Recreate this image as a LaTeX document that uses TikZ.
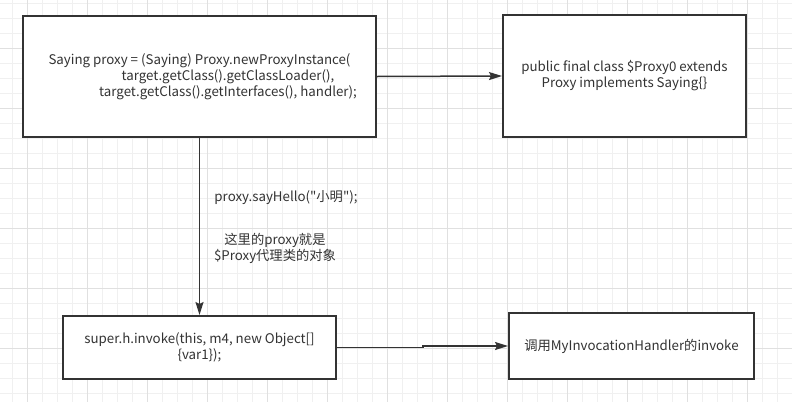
\documentclass[tikz,border=0pt]{standalone}
\usepackage{fontspec}
\setmainfont{Noto Sans CJK SC}[Ligatures=TeXOff]
\usetikzlibrary{arrows.meta}
\definecolor{ink}{HTML}{333333}
\definecolor{gridminor}{HTML}{F0F0F0}
\definecolor{gridmajor}{HTML}{E0E0E0}
\begin{document}
\begin{tikzpicture}[x=1pt,y=-1pt,
  box/.style={draw=ink, line width=2pt, fill=white, inner sep=0pt,
    text=ink, font=\fontsize{13.3}{16}\selectfont, align=center},
  lbl/.style={text=ink, font=\fontsize{13.3}{16.5}\selectfont, align=center, inner sep=0pt},
  flow/.style={draw=ink, line width=1.5pt, -{Stealth[length=13pt,width=8pt,inset=2pt]}}]
\useasboundingbox (0,0) rectangle (792,402);
\fill[white] (0,0) rectangle (792,402);
% background grid
\foreach \x in {12,27,...,792} \draw[gridminor, line width=1pt] (\x,0) -- (\x,402);
\foreach \y in {3,18,...,402} \draw[gridminor, line width=1pt] (0,\y) -- (792,\y);
\foreach \x in {27,87,...,792} \draw[gridmajor, line width=1pt] (\x,0) -- (\x,402);
\foreach \y in {48,108,...,402} \draw[gridmajor, line width=1pt] (0,\y) -- (792,\y);

% boxes
\node[box, minimum width=353pt, minimum height=121pt] (b1) at (199.5,76.5)
  {Saying proxy = (Saying) Proxy.newProxyInstance(\\
   \hspace*{57pt}target.getClass().getClassLoader(),\\
   \hspace*{57pt}target.getClass().getInterfaces(), handler);};
\node[box, minimum width=243pt, minimum height=122pt] (b2) at (624.5,76)
  {public final class \$Proxy0 extends\\ Proxy implements Saying\{\}};
\node[box, minimum width=273pt, minimum height=63pt] (b3) at (199.5,347.5)
  {super.h.invoke(this, m4, new Object[]\\ \{var1\});};
\node[box, minimum width=245pt, minimum height=66pt] (b4) at (631.5,346)
  {调用MyInvocationHandler的invoke};

% free labels beside the vertical connector
\node[lbl] (l1) at (286,198) {proxy.sayHello("小明");};
\node[lbl] (l2) at (275,248.5) {这里的proxy就是\\\$Proxy代理类的对象};

% connectors
\draw[flow] (b1.east) -- (b2.west);
\draw[flow] (b1.south) -- (b3.north);
\draw[flow] (b3.east) -- ++(86,0) |- (b4.west);
\end{tikzpicture}
\end{document}
